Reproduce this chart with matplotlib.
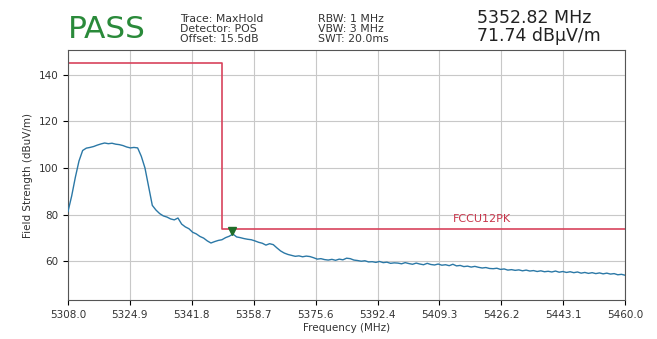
import matplotlib
matplotlib.use('Agg')
import matplotlib.pyplot as plt
import numpy as np

# sweep: 5308 .. 5460 MHz, 1 MHz steps
freq_start = 5308.0
freq_stop = 5460.0
level = [
    81.4, 88.0, 96.0, 103.0, 107.5, 108.5, 108.8, 109.2, 109.8, 110.3,
    110.7, 110.4, 110.6, 110.2, 110.0, 109.6, 109.0, 108.6, 108.8, 108.6,
    105.0, 100.0, 92.0, 84.0, 82.0, 80.5, 79.5, 79.0, 78.2, 77.8,
    78.6, 76.0, 74.8, 74.0, 72.5, 71.8, 70.7, 70.0, 68.8, 67.9,
    68.5, 69.0, 69.3, 70.2, 70.8, 71.74, 70.5, 70.2, 69.8, 69.5,
    69.3, 68.8, 68.2, 67.8, 67.0, 67.6, 67.2, 65.8, 64.5, 63.6,
    63.0, 62.6, 62.2, 62.4, 62.0, 62.3, 62.1, 61.6, 61.0, 61.2,
    60.8, 60.6, 60.9, 60.5, 61.0, 60.7, 61.4, 61.2, 60.6, 60.4,
    60.1, 60.3, 59.8, 59.9, 59.6, 60.0, 59.5, 59.7, 59.2, 59.4,
    59.3, 59.0, 59.5, 59.1, 58.8, 59.3, 58.9, 58.6, 59.2, 58.7,
    58.5, 58.9, 58.4, 58.6, 58.2, 58.8, 58.1, 58.3, 57.8, 58.0,
    57.6, 57.9, 57.5, 57.2, 57.4, 57.0, 56.9, 57.1, 56.6, 56.8,
    56.3, 56.5, 56.2, 56.4, 56.0, 56.3, 55.9, 56.1, 55.7, 56.0,
    55.6, 55.8, 55.5, 55.9, 55.4, 55.7, 55.3, 55.6, 55.2, 55.5,
    55.0, 55.3, 54.9, 55.2, 54.8, 55.1, 54.7, 55.0, 54.6, 54.8,
    54.3, 54.5, 54.1,
]
freq = np.linspace(freq_start, freq_stop, len(level))

# limit line FCCU12PK
limit_freq = [5308.0, 5350.0, 5350.0, 5460.0]
limit_level = [145.0, 145.0, 74.0, 74.0]

peak_freq = 5352.82
peak_level = 71.74

x_ticks = np.linspace(freq_start, freq_stop, 10)
y_ticks = [60, 80, 100, 120, 140]

fig = plt.figure(figsize=(6.57, 3.39), dpi=100)
ax = fig.add_axes([0.1035, 0.115, 0.848, 0.7375])

ax.plot(freq, level, color='#2b78a6', lw=1.0, zorder=3)
ax.plot(limit_freq, limit_level, color='#d8435c', lw=1.2, zorder=2)
ax.plot([peak_freq], [peak_level + 1.2], marker='v', color='#1f6e2a',
        markersize=6, zorder=4)
ax.text(5413.0, 77.0, 'FCCU12PK', color='#c8354a', fontsize=8)

ax.set_xlim(freq_start, freq_stop)
ax.set_ylim(43.5, 150.5)
ax.set_xticks(x_ticks)
ax.set_xticklabels(['%.1f' % t for t in x_ticks], fontsize=7.5, color='#333333')
ax.set_yticks(y_ticks)
ax.set_yticklabels([str(t) for t in y_ticks], fontsize=7.5, color='#333333')
ax.tick_params(axis='x', pad=4)
ax.grid(True, color='#c8c8c8', lw=0.8)
ax.set_axisbelow(True)
for s in ax.spines.values():
    s.set_color('#555555')

ax.set_xlabel('Frequency (MHz)', fontsize=7.5, color='#333333', labelpad=2)
ax.set_ylabel('Field Strength (dBuV/m)', fontsize=7.5, color='#333333', labelpad=4)

# header
fig.text(68 / 657, 1 - 30 / 339, 'PASS', color='#2a8a3a', fontsize=22.5,
         va='center', ha='left')
fig.text(180 / 657, 1 - 29 / 339, 'Trace: MaxHold\nDetector: POS\nOffset: 15.5dB',
         fontsize=7.8, color='#333333', va='center', ha='left', linespacing=1.0)
fig.text(318 / 657, 1 - 29 / 339, 'RBW: 1 MHz\nVBW: 3 MHz\nSWT: 20.0ms',
         fontsize=7.8, color='#333333', va='center', ha='left', linespacing=1.0)
fig.text(477 / 657, 1 - 27 / 339, '5352.82 MHz\n71.74 dBµV/m',
         fontsize=12.5, color='#222222', va='center', ha='left', linespacing=0.95)

plt.savefig('out.png', dpi=100)
